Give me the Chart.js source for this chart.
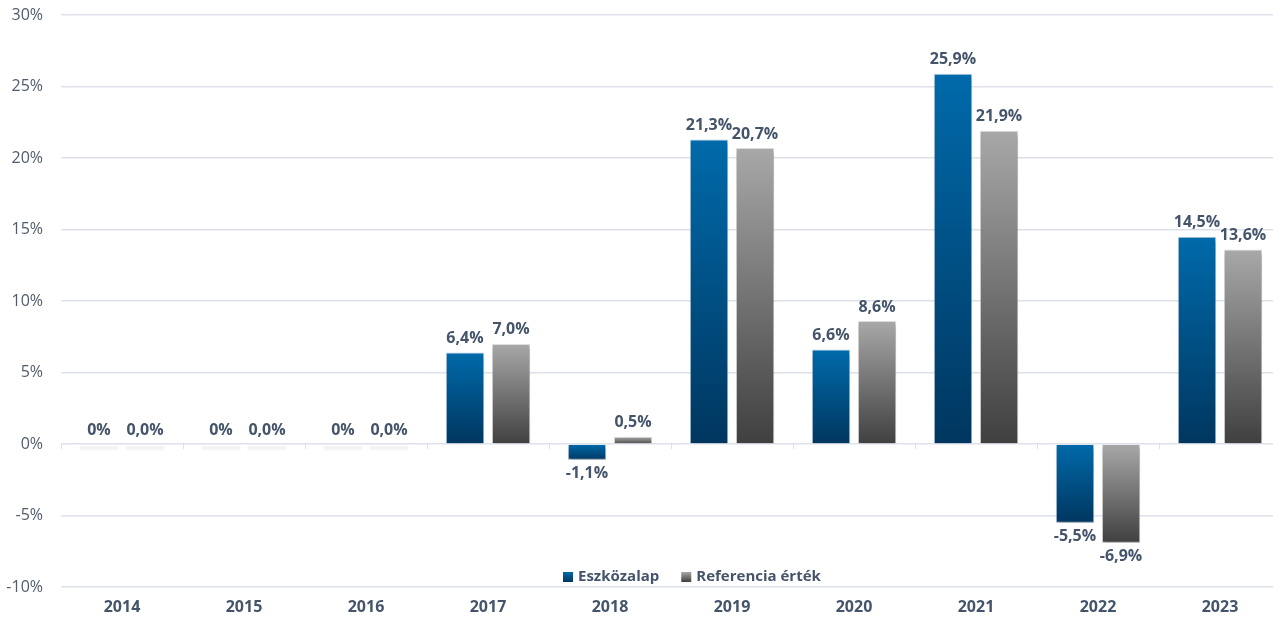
<!DOCTYPE html>
<html>
<head>
<meta charset="utf-8">
<script src="https://cdn.jsdelivr.net/npm/chart.js@4.4.1/dist/chart.umd.min.js"></script>
<style>
    html, body { margin: 0; padding: 0; background: #fff; overflow: hidden; }
    #wrap { width: 1283px; height: 623px; position: relative; }
</style>
</head>
<body>
<div id="wrap"><canvas id="returnChart"></canvas></div>
<script>
// Chart data
const years = ['2014', '2015', '2016', '2017', '2018', '2019', '2020', '2021', '2022', '2023'];
const fundReturns = [0, 0, 0, 6.4, -1.1, 21.3, 6.6, 25.9, -5.5, 14.5];
const benchmarkReturns = [0, 0, 0, 7.0, 0.5, 20.7, 8.6, 21.9, -6.9, 13.6];
const yTicks = [-10, -5, 0, 5, 10, 15, 20, 25, 30];
const seriesNames = ['Eszközalap', 'Referencia érték'];

const textColor = '#44546a';
const gridColor = '#dde2ea';
const palettes = [
    { top: '#006aaa', bottom: '#00365f', solid: '#005a92' },
    { top: '#a8a8a8', bottom: '#3f3f3f', solid: '#7a7a7a' }
];

function formatLabel(value, datasetIndex) {
    if (datasetIndex === 0 && value === 0) return '0%';
    return value.toFixed(1).replace('.', ',') + '%';
}

// Vertical gradient for each bar (light on top, dark at bottom)
function barColor(pal) {
    return (c) => {
        const yScale = c.chart.scales.y;
        if (c.type !== 'data' || !yScale || c.raw == null) return pal.solid;
        const p1 = yScale.getPixelForValue(c.raw);
        const p0 = yScale.getPixelForValue(0);
        if (!isFinite(p0) || !isFinite(p1)) return pal.solid;
        const top = Math.min(p0, p1);
        const bottom = Math.max(p0, p1) + 1;
        const g = c.chart.ctx.createLinearGradient(0, top, 0, bottom);
        g.addColorStop(0, pal.top);
        g.addColorStop(1, pal.bottom);
        return g;
    };
}

// Shadows, value labels and the legend inside the plot
const decorPlugin = {
    id: 'decor',
    beforeDatasetsDraw(chart) {
        const ctx = chart.ctx;
        const y0 = chart.scales.y.getPixelForValue(0);
        // faint shadow strips under the zero bars
        chart.data.datasets.forEach((ds, di) => {
            chart.getDatasetMeta(di).data.forEach((bar, i) => {
                if (ds.data[i] !== 0) return;
                ctx.save();
                ctx.fillStyle = 'rgba(0,0,0,0.05)';
                ctx.filter = 'blur(1px)';
                ctx.fillRect(bar.x - bar.width / 2, y0 + 2, bar.width, 4);
                ctx.restore();
            });
        });
        ctx.save();
        ctx.shadowColor = 'rgba(0,0,0,0.32)';
        ctx.shadowBlur = 4;
        ctx.shadowOffsetX = 1;
        ctx.shadowOffsetY = 3;
    },
    afterDatasetsDraw(chart) {
        const ctx = chart.ctx;
        ctx.restore();
        ctx.save();
        ctx.font = 'bold 16px "Open Sans", sans-serif';
        ctx.fillStyle = textColor;
        ctx.textAlign = 'center';
        chart.data.datasets.forEach((ds, di) => {
            chart.getDatasetMeta(di).data.forEach((bar, i) => {
                const v = ds.data[i];
                if (v < 0) {
                    ctx.textBaseline = 'top';
                    ctx.fillText(formatLabel(v, di), bar.x, bar.y + 6);
                } else {
                    ctx.textBaseline = 'bottom';
                    ctx.fillText(formatLabel(v, di), bar.x, bar.y - 6);
                }
            });
        });
        ctx.restore();
    },
    afterDraw(chart) {
        const ctx = chart.ctx;
        const area = chart.chartArea;
        const cy = area.bottom - 10;
        let x = 563;
        ctx.save();
        ctx.font = 'bold 15px "Open Sans", sans-serif';
        ctx.textBaseline = 'middle';
        ctx.textAlign = 'left';
        seriesNames.forEach((name, i) => {
            const g = ctx.createLinearGradient(0, cy - 5, 0, cy + 5);
            g.addColorStop(0, palettes[i].top);
            g.addColorStop(1, palettes[i].bottom);
            ctx.fillStyle = g;
            ctx.fillRect(x, cy - 5, 10, 10);
            ctx.fillStyle = textColor;
            ctx.fillText(name, x + 15, cy);
            x += 15 + ctx.measureText(name).width + 22;
        });
        ctx.restore();
    }
};

const ctx = document.getElementById('returnChart').getContext('2d');
const chart = new Chart(ctx, {
    type: 'bar',
    data: {
        labels: years,
        datasets: [
            {
                label: seriesNames[0],
                data: fundReturns,
                backgroundColor: barColor(palettes[0]),
                borderColor: 'rgba(120,170,210,0.55)',
                borderWidth: 1,
                categoryPercentage: 0.755,
                barPercentage: 0.83
            },
            {
                label: seriesNames[1],
                data: benchmarkReturns,
                backgroundColor: barColor(palettes[1]),
                borderColor: 'rgba(200,200,200,0.55)',
                borderWidth: 1,
                categoryPercentage: 0.755,
                barPercentage: 0.83
            }
        ]
    },
    options: {
        responsive: true,
        maintainAspectRatio: false,
        animation: false,
        layout: {
            padding: { top: 15, right: 2, left: 0, bottom: 0 }
        },
        plugins: {
            legend: { display: false },
            tooltip: { enabled: false }
        },
        scales: {
            x: {
                grid: { display: false, drawTicks: false },
                border: { display: false },
                ticks: {
                    color: textColor,
                    font: { family: '"Open Sans", sans-serif', size: 16, weight: 'bold' },
                    padding: 11
                },
                afterFit: (s) => { s.height = 36; }
            },
            zeroTicks: {
                type: 'category',
                axis: 'x',
                position: { y: 0 },
                grid: { offset: true, drawOnChartArea: false, drawTicks: true, tickLength: 5, color: gridColor },
                border: { display: false },
                ticks: { display: false },
                afterFit: (s) => { s.height = 0; }
            },
            y: {
                min: -10,
                max: 30,
                afterBuildTicks: (s) => { s.ticks = yTicks.map(v => ({ value: v })); },
                grid: { color: gridColor, lineWidth: 1.5, drawTicks: false },
                border: { display: false },
                ticks: {
                    color: '#505c6c',
                    font: { family: '"Open Sans", sans-serif', size: 16 },
                    padding: 18,
                    callback: (v) => v + '%'
                },
                afterFit: (s) => { s.width = 61; s.paddingTop = 0; }
            }
        }
    },
    plugins: [decorPlugin]
});
</script>
</body>
</html>
